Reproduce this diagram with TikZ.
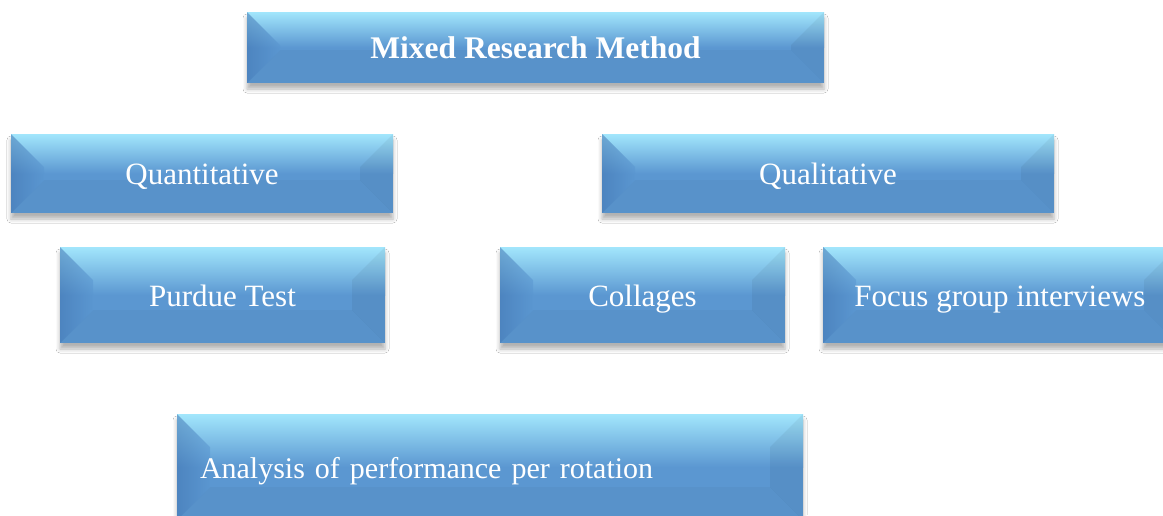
\documentclass[tikz,border=0pt]{standalone}
\usepackage{fontspec}
\setmainfont{Liberation Serif}
\usepackage{tikz}
\usetikzlibrary{positioning, shadows, shadows.blur, calc}
\definecolor{bevtop}{RGB}{162,230,252}
\definecolor{bevbase}{RGB}{91,151,209}
\definecolor{bevdark}{RGB}{66,118,178}

\begin{document}
\begin{tikzpicture}[
    x=1pt, y=-1pt,
    bevel/.style={rectangle, inner sep=0pt, text=white, font=\fontsize{31}{35}\selectfont,
        text height=28pt, text depth=6pt,
        fill=bevbase,
        blur shadow={shadow xshift=0pt, shadow yshift=-6pt, shadow blur radius=4pt, shadow opacity=30},
        path picture={
            \coordinate (pnw) at (path picture bounding box.north west);
            \coordinate (pne) at (path picture bounding box.north east);
            \coordinate (psw) at (path picture bounding box.south west);
            \coordinate (pse) at (path picture bounding box.south east);
            \coordinate (inw) at ($(pnw)+(33pt,-33pt)$);
            \coordinate (ine) at ($(pne)+(-33pt,-33pt)$);
            \coordinate (isw) at ($(psw)+(33pt,33pt)$);
            \coordinate (ise) at ($(pse)+(-33pt,33pt)$);
            % glossy upper half
            \path[top color=bevtop, bottom color=bevbase] (pnw) rectangle ($(pse)!0.5!(pne)$);
            % bevel faces
            \fill[black, opacity=0.03] (psw) -- (pse) -- (ise) -- (isw) -- cycle;
            \path[left color=bevdark, right color=bevbase, opacity=0.55] (pnw) -- (inw) -- (isw) -- (psw) -- cycle;
            \fill[black, opacity=0.05] (pne) -- (ine) -- (ise) -- (pse) -- cycle;
        }},
    titlebox/.style={bevel, font=\fontsize{31.5}{35}\selectfont\bfseries}
]

\fill[white] (0,0) rectangle (1163,515);
\useasboundingbox (0,0) rectangle (1163,515);

\node[titlebox, minimum width=577pt, minimum height=71pt] (mixed) at (535.5,47.5) {Mixed Research Method};

\node[bevel, minimum width=382pt, minimum height=79pt] (quant) at (202,173.5) {Quantitative};
\node[bevel, minimum width=452pt, minimum height=79pt] (qual) at (828,173.5) {Qualitative};

\node[bevel, minimum width=325pt, minimum height=96pt] (purdue) at (222.5,295) {Purdue Test};
\node[bevel, minimum width=285pt, minimum height=96pt] (collages) at (642.5,295) {Collages};
\node[bevel, minimum width=354pt, minimum height=96pt] (focus) at (1000,295) {Focus group interviews};

\node[bevel, font=\fontsize{30}{34}\selectfont, text width=580pt, inner xsep=23pt, align=left, minimum height=106pt] (analysis) at (490,467) {Analysis of performance per rotation};

\end{tikzpicture}
\end{document}
